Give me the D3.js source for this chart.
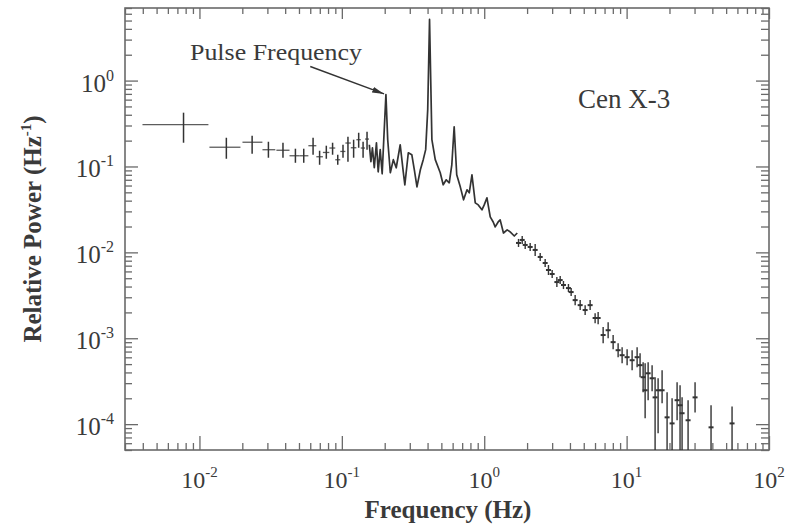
<!DOCTYPE html>
<html><head><meta charset="utf-8">
<script src="https://cdn.jsdelivr.net/npm/d3@7"></script>
<style>
html,body{margin:0;padding:0;background:#fff;}
svg{display:block;}
text{font-family:"Liberation Serif","Times New Roman",serif;fill:#3a3a3a;}
</style></head><body>
<svg id="chart" width="791" height="528"></svg>
<script>
// ---- Low-frequency bins (crosses with bin width) ----
const binFreq  = [0.00773,0.01545,0.02344,0.0305,0.0386,0.0472,0.054,0.0628,0.0698,0.0778,0.0861,0.0936,0.1019,0.1104,0.121,0.1313,0.141,0.1503];
const binFLo   = [0.00398,0.01175,0.02005,0.0277,0.0347,0.0429,0.0504,0.0582,0.0662,0.0736,0.0817,0.0899,0.0975,0.1059,0.1156,0.1265,0.1358,0.1455];
const binFHi   = [0.01156,0.0194,0.02767,0.0341,0.0429,0.0504,0.0582,0.0662,0.0736,0.0817,0.0899,0.0975,0.1059,0.1156,0.1265,0.1358,0.1455,0.1552];
const binPow   = [0.307,0.1675,0.1915,0.1567,0.1545,0.1333,0.1333,0.1745,0.1298,0.1456,0.164,0.1197,0.1496,0.1875,0.1652,0.205,0.164,0.2085];
const binPLo   = [0.189,0.123,0.1406,0.1264,0.1264,0.1104,0.1104,0.137,0.1047,0.123,0.137,0.1047,0.1264,0.1135,0.1264,0.1652,0.1264,0.1567];
const binPHi   = [0.423,0.216,0.228,0.194,0.189,0.161,0.161,0.216,0.1525,0.1745,0.189,0.137,0.179,0.222,0.205,0.247,0.194,0.254];

// ---- Dense continuous spectrum (line) ----
const lineFreq  = [0.156,0.160,0.164,0.169,0.175,0.180,0.186,0.192,0.197,0.204,0.210,0.219,0.230,0.241,0.257,0.270,0.277,0.293,0.310,0.323,0.337,0.356,0.373,0.388,0.401,0.413,0.429,0.453,0.491,0.515,0.541,0.568,0.592,0.615,0.641,0.679,0.716,0.757,0.785,0.820,0.865,0.908,0.964,1.00,1.045,1.102,1.156,1.194,1.253,1.294,1.365,1.449,1.521,1.626,1.706];
const linePower = [0.179,0.1135,0.165,0.0966,0.189,0.0867,0.157,0.0822,0.205,0.687,0.205,0.0845,0.120,0.0966,0.179,0.0867,0.0612,0.1445,0.137,0.0915,0.0579,0.0915,0.120,0.157,0.459,5.15,0.205,0.120,0.0845,0.0612,0.070,0.0646,0.1047,0.290,0.080,0.0579,0.0409,0.0535,0.0493,0.080,0.0377,0.0357,0.0313,0.0357,0.0432,0.0259,0.0226,0.0198,0.0226,0.0239,0.0168,0.0183,0.0173,0.0155,0.0168];

// ---- High-frequency points with error bars ----
const hiFreq = [1.741,1.848,1.940,2.102,2.279,2.472,2.679,2.826,3.000,3.237,3.415,3.602,3.904,4.078,4.351,4.718,5.114,5.544,6.009,6.310,6.842,7.418,8.041,8.717,9.298,10.08,10.93,11.85,12.43,13.06,13.49,14.16,15.10,15.85,16.64,17.75,19.24,20.86,22.62,23.73,24.52,27.02,30.25,39.17,55.02];
const hiPow  = [0.01287,0.01395,0.01220,0.01156,0.01067,0.00884,0.00752,0.00623,0.00560,0.00451,0.00476,0.00417,0.00384,0.00345,0.00278,0.00243,0.00213,0.00243,0.00172,0.00172,0.00109,0.00124,0.000901,0.000726,0.000635,0.000602,0.000555,0.000602,0.000486,0.000352,0.000248,0.000391,0.000342,0.000205,0.000248,0.000248,0.000120,0.000102,0.000190,0.000166,0.000134,0.000111,0.000205,0.0000918,0.000102];
const hiLo   = [0.01156,0.01253,0.01096,0.01038,0.00908,0.00794,0.00676,0.00545,0.00503,0.00395,0.00428,0.00374,0.00345,0.00310,0.00243,0.00213,0.00186,0.00213,0.00150,0.00146,0.000877,0.00100,0.000746,0.000602,0.000512,0.000486,0.000424,0.000460,0.000352,0.000235,0.000117,0.000190,0.000241,0.00003,0.0000781,0.000175,0.00003,0.00003,0.000111,0.00003,0.00003,0.00003,0.000137,0.00003,0.00003];
const hiHi   = [0.01433,0.01553,0.01358,0.01287,0.01253,0.00984,0.00837,0.00713,0.00623,0.00516,0.00530,0.00464,0.00428,0.00384,0.00318,0.00278,0.00243,0.00278,0.00196,0.00202,0.00135,0.00154,0.00109,0.000877,0.000787,0.000746,0.000726,0.000787,0.000670,0.000526,0.000512,0.000526,0.000486,0.000352,0.000342,0.000424,0.000235,0.000200,0.000307,0.000284,0.000205,0.000190,0.000307,0.000166,0.000161];

// ---- Axes ----
const xDomain = [0.003, 100];
const yDomain = [5e-5, 7];
const xTickExps = [-2,-1,0,1,2];
const yTickExps = [-4,-3,-2,-1,0];

// ---- Annotations ----
const pulseLabel = "Pulse Frequency";
const arrowFrom = [0.060, 1.46];
const arrowTo   = [0.198, 0.70];
const sourceLabel = "Cen X-3";

const W=791,H=528;
const m={left:125,right:22,top:8,bottom:78};
const svg=d3.select("#chart");
const x=d3.scaleLog().domain(xDomain).range([m.left,W-m.right]);
const y=d3.scaleLog().domain(yDomain).range([H-m.bottom,m.top]);
const X0=m.left,X1=W-m.right,Y0=H-m.bottom,Y1=m.top;

const ink="#333";
const frameC="#6a6a6a";

function minorTicks(lo,hi){
  const out=[];
  for(let e=Math.floor(Math.log10(lo));e<=Math.ceil(Math.log10(hi));e++){
    for(let k=2;k<=9;k++){const v=k*Math.pow(10,e); if(v>=lo*0.999&&v<=hi*1.001) out.push(v);}
  }
  return out;
}
const xMajor=xTickExps.map(e=>Math.pow(10,e));
const yMajor=yTickExps.map(e=>Math.pow(10,e));
const xMinor=minorTicks(xDomain[0],xDomain[1]);
const yMinor=minorTicks(yDomain[0],yDomain[1]);

function styleAxis(g){
  g.select(".domain").remove();
  g.selectAll(".tick line").attr("stroke",frameC).attr("stroke-width",1.3);
  g.selectAll(".tick text").remove();
}
// bottom
svg.append("g").attr("transform",`translate(0,${Y0})`).call(d3.axisBottom(x).tickValues(xMajor).tickSize(-14).tickFormat("")).call(styleAxis);
svg.append("g").attr("transform",`translate(0,${Y0})`).call(d3.axisBottom(x).tickValues(xMinor).tickSize(-7).tickFormat("")).call(styleAxis);
// top
svg.append("g").attr("transform",`translate(0,${Y1})`).call(d3.axisTop(x).tickValues(xMajor).tickSize(-11).tickFormat("")).call(styleAxis);
svg.append("g").attr("transform",`translate(0,${Y1})`).call(d3.axisTop(x).tickValues(xMinor).tickSize(-6).tickFormat("")).call(styleAxis);
// left
svg.append("g").attr("transform",`translate(${X0},0)`).call(d3.axisLeft(y).tickValues(yMajor).tickSize(-13).tickFormat("")).call(styleAxis);
svg.append("g").attr("transform",`translate(${X0},0)`).call(d3.axisLeft(y).tickValues(yMinor).tickSize(-7).tickFormat("")).call(styleAxis);
// right
svg.append("g").attr("transform",`translate(${X1},0)`).call(d3.axisRight(y).tickValues(yMajor).tickSize(-13).tickFormat("")).call(styleAxis);
svg.append("g").attr("transform",`translate(${X1},0)`).call(d3.axisRight(y).tickValues(yMinor).tickSize(-8).tickFormat("")).call(styleAxis);

// frame
svg.append("rect").attr("x",X0).attr("y",Y1).attr("width",X1-X0).attr("height",Y0-Y1)
  .attr("fill","none").attr("stroke",frameC).attr("stroke-width",1.6);

// tick labels
xTickExps.forEach(e=>{
  const t=svg.append("text").attr("x",x(Math.pow(10,e))).attr("y",Y0+38).attr("text-anchor","middle").attr("font-size",24);
  t.append("tspan").text("10");
  t.append("tspan").attr("font-size",15).attr("dy",-11).text(String(e));
});
yTickExps.forEach(e=>{
  const t=svg.append("text").attr("x",X0-11).attr("y",y(Math.pow(10,e))+11).attr("text-anchor","end").attr("font-size",25);
  t.append("tspan").text("10");
  t.append("tspan").attr("font-size",16).attr("dy",-11).text(String(e));
});

// axis titles
svg.append("text").attr("x",448).attr("y",518).attr("text-anchor","middle")
  .attr("font-size",25).attr("font-weight","bold").text("Frequency (Hz)");
const yt=svg.append("text").attr("transform",`translate(41,229) rotate(-90)`).attr("text-anchor","middle")
  .attr("font-size",25).attr("font-weight","bold");
yt.append("tspan").text("Relative Power (Hz");
yt.append("tspan").attr("font-size",15).attr("dy",-10).text("-1");
yt.append("tspan").attr("dy",10).text(")");

// data
svg.append("clipPath").attr("id","clip").append("rect").attr("x",X0).attr("y",Y1).attr("width",X1-X0).attr("height",Y0-Y1);
const gd=svg.append("g").attr("clip-path","url(#clip)");

// low-frequency crosses
binFreq.forEach((f,i)=>{
  gd.append("line").attr("x1",x(binFLo[i])).attr("x2",x(binFHi[i])).attr("y1",y(binPow[i])).attr("y2",y(binPow[i]))
    .attr("stroke",ink).attr("stroke-width",1.3).attr("stroke-opacity",0.8);
  gd.append("line").attr("x1",x(f)).attr("x2",x(f)).attr("y1",y(binPLo[i])).attr("y2",y(binPHi[i]))
    .attr("stroke",ink).attr("stroke-width",1.5);
});

// dense line
gd.append("path").datum(lineFreq.map((f,i)=>[f,linePower[i]]))
  .attr("d",d3.line().x(d=>x(d[0])).y(d=>y(d[1])))
  .attr("fill","none").attr("stroke",ink).attr("stroke-width",1.7).attr("stroke-linejoin","round");

// high-frequency points
hiFreq.forEach((f,i)=>{
  const cx=x(f);
  gd.append("line").attr("x1",cx).attr("x2",cx).attr("y1",y(hiLo[i])).attr("y2",y(hiHi[i]))
    .attr("stroke",ink).attr("stroke-width",1.4);
  gd.append("line").attr("x1",cx-2.5).attr("x2",cx+2.5).attr("y1",y(hiPow[i])).attr("y2",y(hiPow[i]))
    .attr("stroke",ink).attr("stroke-width",2);
});

// annotation
svg.append("defs").append("marker").attr("id","ah").attr("viewBox","0 0 12 6").attr("refX",12).attr("refY",3)
  .attr("markerWidth",12).attr("markerHeight",6).attr("markerUnits","userSpaceOnUse").attr("orient","auto")
  .append("path").attr("d","M0,0 L12,3 L0,6 Z").attr("fill",ink);
svg.append("line").attr("x1",x(arrowFrom[0])).attr("y1",y(arrowFrom[1])).attr("x2",x(arrowTo[0])).attr("y2",y(arrowTo[1]))
  .attr("stroke",ink).attr("stroke-width",1.4).attr("marker-end","url(#ah)");
svg.append("text").attr("x",190).attr("y",60).attr("font-size",23).attr("textLength",172).attr("lengthAdjust","spacingAndGlyphs").text(pulseLabel);
svg.append("text").attr("x",578).attr("y",108).attr("font-size",27).text(sourceLabel);
</script>
</body></html>
